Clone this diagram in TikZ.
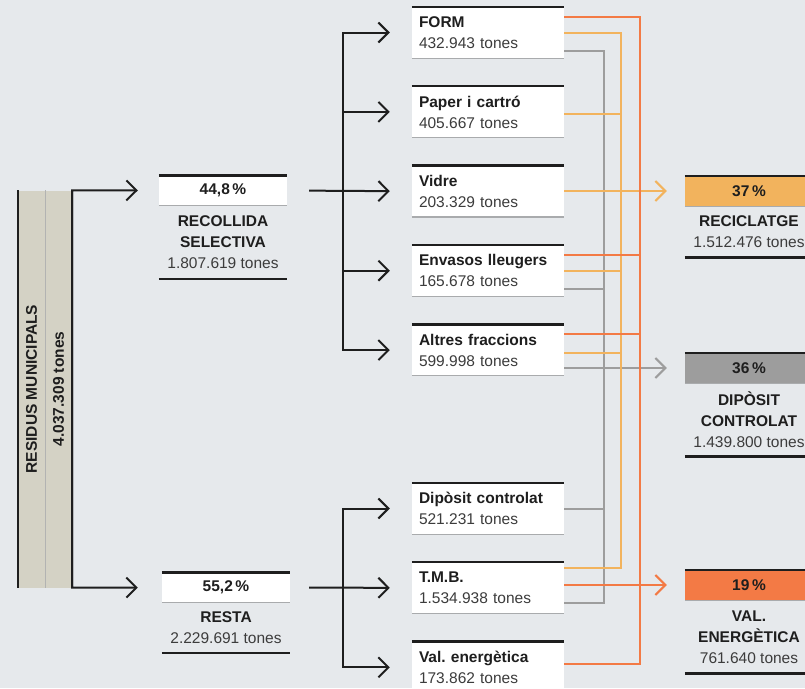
\documentclass[tikz,border=0pt]{standalone}
\usepackage{fontspec}
\setmainfont{Liberation Sans}
\usetikzlibrary{positioning, arrows.meta}
\frenchspacing

\definecolor{bgc}{HTML}{E6E9EC}
\definecolor{barc}{HTML}{D4D2C5}
\definecolor{orc}{HTML}{F37A45}
\definecolor{yec}{HTML}{F2B35D}
\definecolor{grc}{HTML}{9D9D9D}
\definecolor{rulec}{HTML}{A9ABAD}
\definecolor{inkc}{HTML}{1E1E1E}
\definecolor{softc}{HTML}{3C3C3C}

\newcommand{\headtxt}[1]{{\bfseries\color{inkc}#1}}

\begin{document}
\begin{tikzpicture}[x=1pt, y=-1pt, node distance=28pt,
  txt/.style={font=\fontsize{15.5}{21}\selectfont, text=softc, inner sep=0pt},
  frac/.style={txt, fill=white, minimum width=152pt, minimum height=51pt,
    text width=138pt, inner xsep=7pt, align=left},
  pct/.style={txt, font=\fontsize{15.5}{21}\selectfont\bfseries, text=inkc,
    minimum width=128pt, minimum height=30pt},
  lbl/.style={txt, minimum width=128pt, align=center},
  toprule/.style={draw=inkc, line width=2.5pt},
  botrule/.style={draw=rulec, line width=1.3pt},
  wire/.style={draw=inkc, line width=2pt},
  barb/.style={-{Straight Barb[length=10pt, width=20pt]}},
  orl/.style={draw=orc, line width=2pt},
  yel/.style={draw=yec, line width=2pt},
  grl/.style={draw=grc, line width=2pt}]
\path[use as bounding box, fill=bgc] (0,0) rectangle (805,688);

% total bar
\node[fill=barc, minimum width=54pt, minimum height=397pt, inner sep=0pt] (total) at (45,389) {};
\node[txt, rotate=90, align=center, font=\fontsize{15.5}{27}\selectfont\bfseries, text=inkc]
  (totaltxt) at (total.center) {RESIDUS MUNICIPALS\\4.037.309 tones};
\draw[toprule] (total.north west) -- (total.south west);
\draw[draw=rulec!80!barc, line width=0.8pt] (total.north) -- (total.south);

% split
\node[pct, fill=white] (selpct) at (223,190.5) {44,8\,\%};
\node[lbl, minimum height=73pt, below=0pt of selpct] (sellbl)
  {\headtxt{RECOLLIDA}\\\headtxt{SELECTIVA}\\1.807.619 tones};
\node[pct, fill=white] (restpct) at (226,587.5) {55,2\,\%};
\node[lbl, minimum height=50pt, below=0pt of restpct] (restlbl)
  {\headtxt{RESTA}\\2.229.691 tones};

% fractions
\node[frac] (form) at (488,32.5) {\headtxt{FORM}\\432.943 tones};
\node[frac, below=of form] (paper) {\headtxt{Paper i cartró}\\405.667 tones};
\node[frac, below=of paper] (vidre) {\headtxt{Vidre}\\203.329 tones};
\node[frac, below=of vidre] (envasos) {\headtxt{Envasos lleugers}\\165.678 tones};
\node[frac, below=of envasos] (altres) {\headtxt{Altres fraccions}\\599.998 tones};
\node[frac] (dipos) at (488,508.5) {\headtxt{Dipòsit controlat}\\521.231 tones};
\node[frac, below=of dipos] (tmb) {\headtxt{T.M.B.}\\1.534.938 tones};
\node[frac, below=of tmb] (valen) {\headtxt{Val. energètica}\\173.862 tones};

% destinations
\node[pct, fill=yec] (recpct) at (749,191) {37\,\%};
\node[lbl, minimum height=51pt, below=0pt of recpct] (reclbl)
  {\headtxt{RECICLATGE}\\1.512.476 tones};
\node[pct, fill=grc] (dippct) at (749,368) {36\,\%};
\node[lbl, minimum height=73pt, below=0pt of dippct] (diplbl)
  {\headtxt{DIPÒSIT}\\\headtxt{CONTROLAT}\\1.439.800 tones};
\node[pct, fill=orc] (valpct) at (749,585) {19\,\%};
\node[lbl, minimum height=73pt, below=0pt of valpct] (vallbl)
  {\headtxt{VAL.}\\\headtxt{ENERGÈTICA}\\761.640 tones};

\foreach \n in {form,paper,vidre,envasos,altres,dipos,tmb,valen,selpct,restpct,recpct,dippct,valpct}{
  \draw[toprule] (\n.north west) -- (\n.north east);
  \draw[botrule] (\n.south west) -- (\n.south east);}
\foreach \n in {sellbl,restlbl,reclbl,diplbl,vallbl}
  \draw[toprule] (\n.south west) -- (\n.south east);

% black arrows
\draw[wire, barb, shorten >=21pt] (total.south east) -- (total.north east) -- (selpct.west);
\draw[wire, barb, shorten >=24pt] (total.north east) -- (total.south east) -- (restpct.west);
\coordinate[right=56pt of selpct.east] (selfork);
\coordinate[right=53pt of restpct.east] (restfork);
\draw[wire, barb, shorten <=22pt, shorten >=22pt] (selpct.east) -- (vidre.west);
\draw[wire, line cap=rect] (selfork |- form.west) -- (selfork |- altres.west);
\foreach \n in {form,paper,envasos,altres}
  \draw[wire, barb, shorten >=22pt] (selfork |- \n.west) -- (\n.west);
\draw[wire, barb, shorten <=19pt, shorten >=22pt] (restpct.east) -- (tmb.west);
\draw[wire, line cap=rect] (restfork |- dipos.west) -- (restfork |- valen.west);
\foreach \n in {dipos,valen}
  \draw[wire, barb, shorten >=22pt] (restfork |- \n.west) -- (\n.west);

% coloured flows
\coordinate (orbot) at ([xshift=76pt, yshift=3.5pt]valen.east);
\coordinate (yebot) at ([xshift=57pt, yshift=19.5pt]tmb.east);
\coordinate (grbot) at ([xshift=40pt, yshift=-15.5pt]tmb.east);

\draw[grl] ([yshift=-18.5pt]form.east) -| (grbot) -- (tmb.east |- grbot);
\draw[grl] ([yshift=-18.5pt]envasos.east) -| (grbot);
\draw[grl] (dipos.east) -| (grbot);
\draw[grl, barb, shorten >=18pt] (altres.east |- dippct.west) -- (dippct.west);

\draw[yel] ([yshift=-0.5pt]form.east) -| (yebot) -- (tmb.east |- yebot);
\draw[yel] ([yshift=-2pt]paper.east) -| (yebot);
\draw[yel] ([yshift=-0.5pt]envasos.east) -| (yebot);
\draw[yel] ([yshift=-2.5pt]altres.east) -| (yebot);
\draw[yel, barb, shorten >=18pt] (vidre.east |- recpct.west) -- (recpct.west);

\draw[orl] ([yshift=16pt]form.east) -| (orbot) -- (valen.east |- orbot);
\draw[orl] ([yshift=16pt]envasos.east) -| (orbot);
\draw[orl] ([yshift=16pt]altres.east) -| (orbot);
\draw[orl, barb, shorten >=18pt] (tmb.east |- valpct.west) -- (valpct.west);
\end{tikzpicture}
\end{document}
